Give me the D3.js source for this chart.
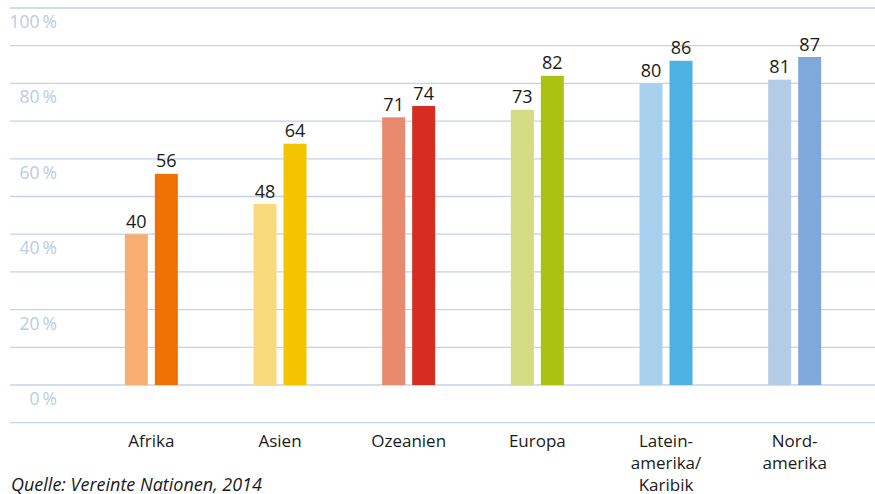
<!DOCTYPE html>
<html><head><meta charset="utf-8">
<script src="https://cdn.jsdelivr.net/npm/d3@7"></script>
<style>
html,body{margin:0;padding:0;background:#fff;}
svg{display:block;font-family:"Open Sans",sans-serif;}
</style></head>
<body>
<svg id="chart" width="875" height="494"></svg>
<script>
const categories = ["Afrika","Asien","Ozeanien","Europa","Lateinamerika/Karibik","Nordamerika"];
const categoryLines = [["Afrika"],["Asien"],["Ozeanien"],["Europa"],["Latein-","amerika/","Karibik"],["Nord-","amerika"]];
const valuesA = [40,48,71,73,80,81];
const valuesB = [56,64,74,82,86,87];
const colorsA = ["#f8ae72","#f9da7a","#e88a6d","#d3dc85","#a7d1ef","#b5cce9"];
const colorsB = ["#ef7103","#f5c400","#d52e20","#acc213","#4eb1e3","#7fa8db"];
const gridTicks = [-10,0,10,20,30,40,50,60,70,80,90,100];
const labelTicks = [0,20,40,60,80,100];
const source = "Quelle: Vereinte Nationen, 2014";

const svg = d3.select("#chart");
const y = d3.scaleLinear().domain([0,100]).range([385,8]);
const x = d3.scaleBand().domain(categories).range([87,859]);
const barW = 23, gap = 7;

svg.append("g").selectAll("line").data(gridTicks).join("line")
  .attr("x1",10).attr("x2",875)
  .attr("y1",d=>y(d)).attr("y2",d=>y(d))
  .attr("stroke","#c6d2e7").attr("stroke-width",1.3);

svg.append("g").selectAll("text").data(labelTicks).join("text")
  .attr("x",57).attr("y",d=>y(d)+20)
  .attr("text-anchor","end")
  .attr("font-size",17.5).attr("fill","#bccbe2")
  .text(d=>d+"\u2009%");

const g = svg.append("g");
categories.forEach((c,i)=>{
  const cx = x(c)+x.bandwidth()/2;
  const bars = [
    {v:valuesA[i], col:colorsA[i], x0:cx-gap/2-barW},
    {v:valuesB[i], col:colorsB[i], x0:cx+gap/2}
  ];
  bars.forEach(b=>{
    g.append("rect").attr("x",b.x0).attr("width",barW)
      .attr("y",y(b.v)).attr("height",y(0)-y(b.v)).attr("fill",b.col);
    g.append("text").attr("x",b.x0+barW/2).attr("y",y(b.v)-6.5)
      .attr("text-anchor","middle").attr("font-size",18).attr("fill","#1a1a1a")
      .text(b.v);
  });
  const t = g.append("text").attr("text-anchor","middle").attr("font-size",17).attr("fill","#1a1a1a");
  categoryLines[i].forEach((ln,k)=>{
    t.append("tspan").attr("x",cx).attr("y",446.5+k*22.2).text(ln);
  });
});

svg.append("text").attr("x",11).attr("y",490.5)
  .attr("font-size",18).attr("font-style","italic").attr("fill","#1a1a1a")
  .text(source);
</script>
</body></html>
